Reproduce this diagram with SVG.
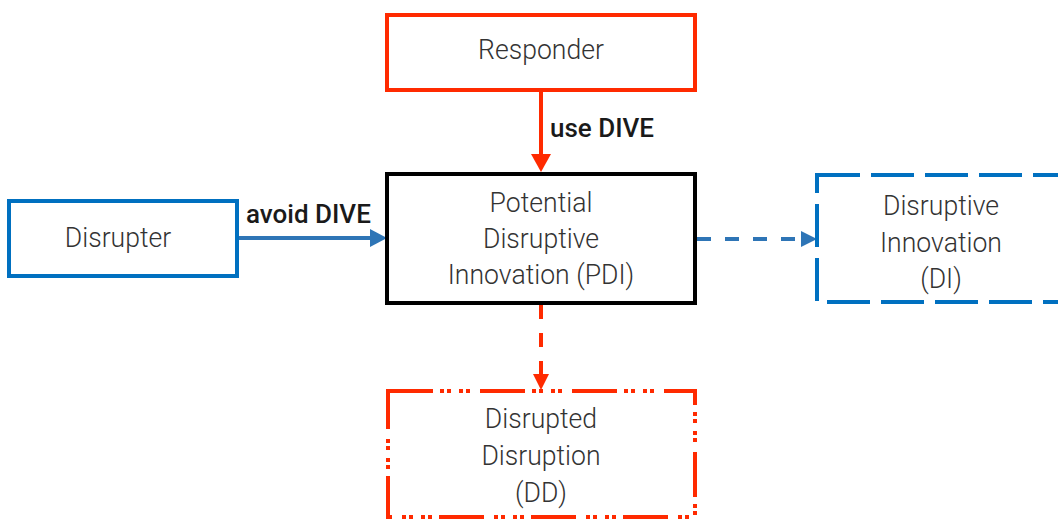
<svg xmlns="http://www.w3.org/2000/svg" width="1058" height="521" viewBox="0 0 1058 521">
<style>
.t{font-family:Roboto,"Liberation Sans",sans-serif;font-weight:300;font-size:28px;fill:#333;text-anchor:middle}
.l{font-family:Roboto,"Liberation Sans",sans-serif;font-weight:500;font-size:26px;fill:#1a1a1a}
.red{fill:#fff;stroke:#FF2A00;stroke-width:4}
.blue{fill:#fff;stroke:#0070C0;stroke-width:4}
</style>
<rect width="1058" height="521" fill="#fff"/>
<g id="connectors">
<line x1="541" y1="92" x2="541" y2="154" stroke="#FF2A00" stroke-width="4"/>
<path d="M531,154 L551,154 L541,172 z" fill="#FF2A00"/>
<line x1="238" y1="238" x2="372" y2="238" stroke="#2E75B6" stroke-width="4"/>
<path d="M370,229 L387,238 L370,247 z" fill="#2E75B6"/>
<line x1="697" y1="239" x2="800" y2="239" stroke="#2E75B6" stroke-width="4" stroke-dasharray="14 14"/>
<path d="M801,231 L817,239 L801,247 z" fill="#2E75B6"/>
<line x1="541" y1="305" x2="541" y2="374" stroke="#FF2A00" stroke-width="4" stroke-dasharray="14 14"/>
<path d="M533,374 L549,374 L541,390 z" fill="#FF2A00"/>
<text class="l" x="550" y="137">use DIVE</text>
<text class="l" x="246" y="223">avoid DIVE</text>
</g>
<g id="responder">
<rect class="red" x="387" y="15" width="308" height="75"/>
<g transform="translate(541,0) scale(0.95,1)"><text class="t" x="0" y="59">Responder</text></g>
</g>
<g id="disrupter">
<rect class="blue" x="9" y="201" width="228" height="75"/>
<g transform="translate(118,0) scale(0.95,1)"><text class="t" x="0" y="247">Disrupter</text></g>
</g>
<g id="pdi">
<rect x="387" y="174" width="308" height="129" fill="#fff" stroke="#000" stroke-width="4"/>
<g transform="translate(541,0) scale(0.95,1)">
<text class="t" x="0" y="212">Potential</text>
<text class="t" x="0" y="248">Disruptive</text>
<text class="t" x="0" y="284">Innovation (PDI)</text>
</g>
</g>
<g id="di">
<rect class="blue" x="817" y="175" width="260" height="127" stroke-dasharray="43 11"/>
<g transform="translate(941,0) scale(0.95,1)">
<text class="t" x="0" y="215">Disruptive</text>
<text class="t" x="0" y="252">Innovation</text>
<text class="t" x="0" y="288">(DI)</text>
</g>
</g>
<g id="dd">
<rect class="red" x="388" y="391" width="307" height="126" stroke-dasharray="45 7 4 3 4 8 4 3 4 10"/>
<g transform="translate(541,0) scale(0.95,1)">
<text class="t" x="0" y="428">Disrupted</text>
<text class="t" x="0" y="465">Disruption</text>
<text class="t" x="0" y="502">(DD)</text>
</g>
</g>
</svg>
